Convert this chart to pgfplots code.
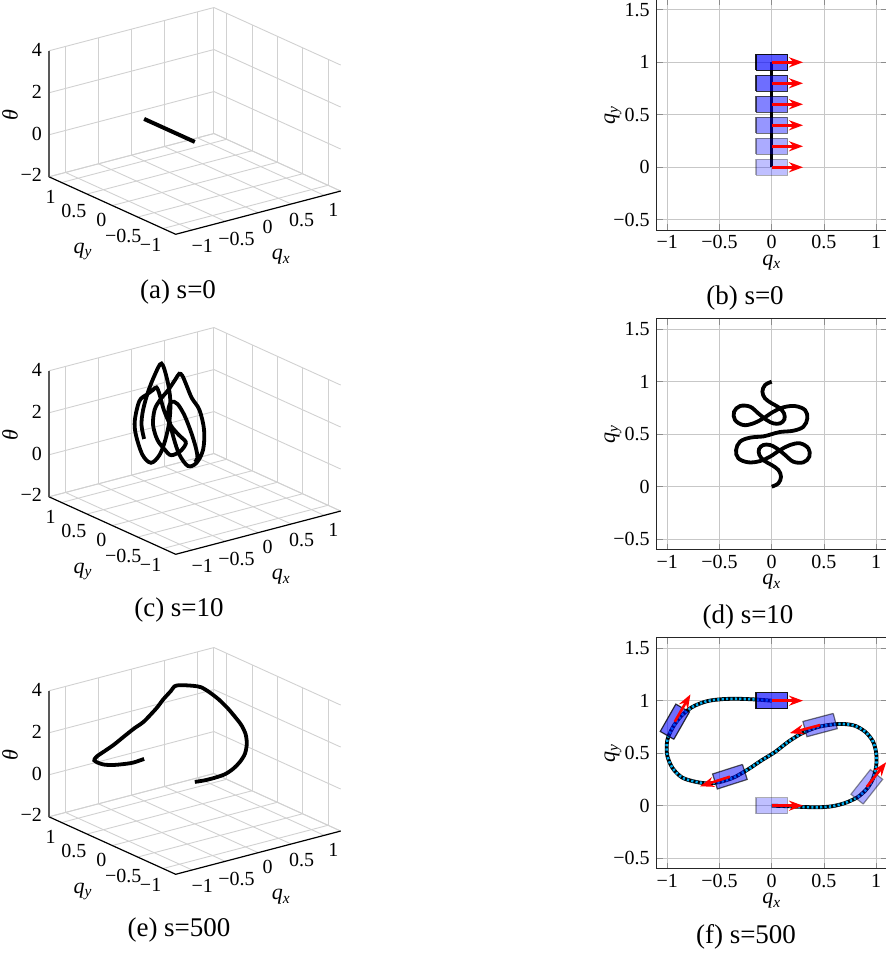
\documentclass[border=0pt]{standalone}
\usepackage{fontspec}
\setmainfont{Liberation Serif}
\usepackage{pgfplots}
\pgfplotsset{compat=1.18}
\usetikzlibrary{arrows.meta}

\newcommand{\qx}{\textit{q}\textsubscript{\textit{x}}}
\newcommand{\qy}{\textit{q}\textsubscript{\textit{y}}}

\pgfplotsset{
  my2d/.style={
    x=52.25pt, y=52.5pt,
    xmin=-1.1, xmax=1.1, ymin=-0.6, ymax=1.6,
    xtick={-1,-0.5,0,0.5,1}, xticklabels={−1,−0.5,0,0.5,1},
    ytick={-0.5,0,0.5,1,1.5}, yticklabels={−0.5,0,0.5,1,1.5},
    grid=major, grid style={black!22, line width=0.45pt},
    axis line style={black!85, line width=0.7pt},
    tick style={black!45, line width=0.4pt},
    major tick length=3pt,
    tick label style={font=\fontsize{10}{11}\selectfont},
    xticklabel style={inner sep=1pt, yshift=-1.5pt},
    xlabel={\qx}, ylabel={\qy},
    label style={font=\fontsize{11}{12}\selectfont},
    xlabel style={at={(axis description cs:0.5,-0.14)}, anchor=center, inner sep=0pt},
    ylabel style={at={(axis description cs:-0.19,0.5)}, anchor=center, inner sep=0pt},
    anchor=origin,
  },
  my3d/.style={
    x={(33pt,8.65pt)}, y={(-25.35pt,11.5pt)}, z={(0pt,10.5pt)},
    xmin=-1.25, xmax=1.25, ymin=-1.25, ymax=1.25, zmin=-2, zmax=4,
    xtick={-1,-0.5,0,0.5,1}, xticklabels={−1,−0.5,0,0.5,1},
    ytick={-1,-0.5,0,0.5,1}, yticklabels={−1,−0.5,0,0.5,1},
    ztick={-2,0,2,4}, zticklabels={−2,0,2,4},
    grid=major, grid style={black!18, line width=0.45pt},
    axis line style={draw=none},
    tick style={draw=none},
    tick label style={font=\fontsize{10}{11}\selectfont},
    xlabel={\qx}, ylabel={\qy}, zlabel={\textit{θ}},
    label style={font=\fontsize{11}{12}\selectfont},
    xlabel style={xshift=-6pt, yshift=5pt},
    ylabel style={xshift=7pt, yshift=5pt},
    zlabel style={yshift=-6pt, xshift=-3pt},
    anchor=origin, clip=false,
  },
}

\newcommand{\boxedges}{%
  \draw[black!18, line width=0.45pt] (axis cs:-1.25,1.25,-2) -- (axis cs:1.25,1.25,-2) -- (axis cs:1.25,-1.25,-2);
  \draw[black!18, line width=0.45pt] (axis cs:1.25,1.25,-2) -- (axis cs:1.25,1.25,4);
  \draw[black, line width=0.6pt] (axis cs:-1.25,1.25,-2) -- (axis cs:-1.25,-1.25,-2) -- (axis cs:1.25,-1.25,-2);
  \draw[black!65, line width=0.6pt] (axis cs:-1.25,1.25,-2) -- (axis cs:-1.25,1.25,4);
}

\begin{document}
\begin{tikzpicture}
\path[use as bounding box] (0pt,0pt) rectangle (443pt,476.5pt);

% ---------------- (a) ----------------
\begin{axis}[my3d, at={(97.41pt,405.54pt)}]
\boxedges
\addplot3[black, line width=2pt] coordinates {(0,0,0) (0,1,0)};
\end{axis}

% ---------------- (c) ----------------
\begin{axis}[my3d, at={(97.41pt,245.54pt)}]
\boxedges
\addplot3[black, line width=1.9pt, smooth, tension=0.55] coordinates {
(0,1,0) (-0.064,0.968,0.75) (-0.089,0.905,1.55) (-0.064,0.841,2.45) (0,0.794,3.25)
(0.073,0.752,3.8) (0.118,0.698,3.05) (0.121,0.641,2.15) (0.080,0.603,1.27) (0.016,0.603,0.37)
(-0.048,0.635,-0.33) (-0.128,0.698,-0.7) (-0.207,0.762,-0.33) (-0.303,0.768,0.7) (-0.360,0.714,1.5)
(-0.351,0.635,2.5) (-0.271,0.587,2.8) (-0.175,0.603,2.9) (-0.080,0.651,2.9) (0.016,0.714,2.4)
(0.112,0.756,1.55) (0.223,0.768,0.73) (0.319,0.730,0.22) (0.341,0.651,0.05) (0.303,0.571,0)
(0.207,0.533,-0.2) (0.080,0.521,-0.3) (0,0.5,-0.2) (-0.080,0.479,0.1) (-0.207,0.467,0.7)
(-0.303,0.429,1.54) (-0.341,0.349,2.38) (-0.319,0.270,2.92) (-0.223,0.232,3.36) (-0.112,0.244,3.73)
(-0.016,0.286,3.9) (0.080,0.349,3.65) (0.175,0.397,3.1) (0.271,0.413,2.37) (0.351,0.365,1.78)
(0.360,0.286,0.91) (0.303,0.232,0.07) (0.207,0.238,-0.48) (0.128,0.302,-0.63) (0.048,0.365,-0.1)
(-0.016,0.397,0.72) (-0.080,0.397,1.63) (-0.121,0.359,2.28) (-0.118,0.302,2.63) (-0.073,0.248,2.55)
(0,0.206,2.0) (0.064,0.159,1.2) (0.089,0.095,0.49) (0.064,0.032,0.1) (0,0,0)
};
\end{axis}

% ---------------- (e) ----------------
\begin{axis}[my3d, at={(97.41pt,85.54pt)}]
\boxedges
\addplot3[black, line width=1.9pt, smooth] coordinates {
(0,0,0) (0.15,-0.005,-0.04) (0.30,-0.012,-0.03) (0.45,-0.015,0.02) (0.58,-0.005,0.16)
(0.70,0.025,0.34) (0.82,0.08,0.57) (0.91,0.16,0.88) (0.97,0.26,1.18) (1.0,0.38,1.45)
(1.0,0.50,1.70) (0.97,0.61,2.03) (0.9,0.7,2.42) (0.8,0.76,2.79) (0.69,0.778,3.09)
(0.57,0.772,3.26) (0.43,0.746,3.43) (0.29,0.69,3.61) (0.16,0.61,3.75) (0.03,0.51,3.75)
(-0.1,0.43,3.71) (-0.22,0.35,3.69) (-0.36,0.27,3.56) (-0.5,0.225,3.36) (-0.62,0.213,3.12)
(-0.74,0.23,2.91) (-0.86,0.27,2.59) (-0.95,0.36,2.16) (-1.0,0.48,1.76) (-1.0,0.62,1.38)
(-0.95,0.74,1.06) (-0.87,0.85,0.81) (-0.76,0.94,0.53) (-0.62,0.995,0.25) (-0.47,1.015,0.08)
(-0.32,1.018,-0.01) (-0.16,1.012,-0.06) (0,1.0,0)
};
\end{axis}

% ---------------- (b) ----------------
\begin{axis}[my2d, at={(385.85pt,392.85pt)}]
\addplot[black, line width=1.6pt] coordinates {(0,0) (0,1)};
\addplot[fill=blue, fill opacity=0.25, draw=black, draw opacity=0.3, line width=0.6pt] coordinates {(-0.15,-0.075) (0.15,-0.075) (0.15,0.075) (-0.15,0.075) (-0.15,-0.075)};
\addplot[fill=blue, fill opacity=0.33, draw=black, draw opacity=0.42, line width=0.6pt] coordinates {(-0.15,0.125) (0.15,0.125) (0.15,0.275) (-0.15,0.275) (-0.15,0.125)};
\addplot[fill=blue, fill opacity=0.41, draw=black, draw opacity=0.54, line width=0.6pt] coordinates {(-0.15,0.325) (0.15,0.325) (0.15,0.475) (-0.15,0.475) (-0.15,0.325)};
\addplot[fill=blue, fill opacity=0.49, draw=black, draw opacity=0.66, line width=0.6pt] coordinates {(-0.15,0.525) (0.15,0.525) (0.15,0.675) (-0.15,0.675) (-0.15,0.525)};
\addplot[fill=blue, fill opacity=0.57, draw=black, draw opacity=0.78, line width=0.6pt] coordinates {(-0.15,0.725) (0.15,0.725) (0.15,0.875) (-0.15,0.875) (-0.15,0.725)};
\addplot[fill=blue, fill opacity=0.65, draw=black, draw opacity=0.9, line width=0.6pt] coordinates {(-0.15,0.925) (0.15,0.925) (0.15,1.075) (-0.15,1.075) (-0.15,0.925)};
\addplot[red, line width=1.3pt, -{Stealth[length=7pt,width=5pt]}] coordinates {(0,0) (0.3,0)};
\addplot[red, line width=1.3pt, -{Stealth[length=7pt,width=5pt]}] coordinates {(0,0.2) (0.3,0.2)};
\addplot[red, line width=1.3pt, -{Stealth[length=7pt,width=5pt]}] coordinates {(0,0.4) (0.3,0.4)};
\addplot[red, line width=1.3pt, -{Stealth[length=7pt,width=5pt]}] coordinates {(0,0.6) (0.3,0.6)};
\addplot[red, line width=1.3pt, -{Stealth[length=7pt,width=5pt]}] coordinates {(0,0.8) (0.3,0.8)};
\addplot[red, line width=1.3pt, -{Stealth[length=7pt,width=5pt]}] coordinates {(0,1) (0.3,1)};
\end{axis}

% ---------------- (d) ----------------
\begin{axis}[my2d, at={(385.85pt,233.15pt)}]
\addplot[black, line width=1.9pt, smooth, tension=0.6] coordinates {
(0,1.0) (-0.064,0.968) (-0.089,0.905) (-0.064,0.841) (0,0.794) (0.073,0.752) (0.118,0.698)
(0.121,0.641) (0.080,0.603) (0.016,0.603) (-0.048,0.635) (-0.128,0.698) (-0.207,0.762)
(-0.303,0.768) (-0.360,0.714) (-0.351,0.635) (-0.271,0.587) (-0.175,0.603) (-0.080,0.651)
(0.016,0.714) (0.112,0.756) (0.223,0.768) (0.319,0.730) (0.341,0.651) (0.303,0.571)
(0.207,0.533) (0.080,0.521) (0,0.5) (-0.080,0.479) (-0.207,0.467) (-0.303,0.429)
(-0.341,0.349) (-0.319,0.270) (-0.223,0.232) (-0.112,0.244) (-0.016,0.286) (0.080,0.349)
(0.175,0.397) (0.271,0.413) (0.351,0.365) (0.360,0.286) (0.303,0.232) (0.207,0.238)
(0.128,0.302) (0.048,0.365) (-0.016,0.397) (-0.080,0.397) (-0.121,0.359) (-0.118,0.302)
(-0.073,0.248) (0,0.206) (0.064,0.159) (0.089,0.095) (0.064,0.032) (0,0)
};
\end{axis}

% ---------------- (f) ----------------
\begin{axis}[my2d, at={(385.85pt,73.65pt)}]
\addplot[black, line width=1.9pt, smooth] coordinates {
(0,0) (0.15,-0.005) (0.30,-0.012) (0.45,-0.015) (0.58,-0.005) (0.70,0.025) (0.82,0.08)
(0.91,0.16) (0.97,0.26) (1.0,0.38) (1.0,0.50) (0.97,0.61) (0.9,0.7) (0.8,0.76) (0.69,0.778)
(0.57,0.772) (0.43,0.746) (0.29,0.69) (0.16,0.61) (0.03,0.51) (-0.1,0.43) (-0.22,0.35)
(-0.36,0.27) (-0.5,0.225) (-0.62,0.213) (-0.74,0.23) (-0.86,0.27) (-0.95,0.36) (-1.0,0.48)
(-1.0,0.62) (-0.95,0.74) (-0.87,0.85) (-0.76,0.94) (-0.62,0.995) (-0.47,1.015) (-0.32,1.018)
(-0.16,1.012) (0,1.0)
};
\addplot[cyan, line width=1.3pt, dash pattern=on 1.1pt off 1.1pt, smooth] coordinates {
(0,0) (0.15,-0.005) (0.30,-0.012) (0.45,-0.015) (0.58,-0.005) (0.70,0.025) (0.82,0.08)
(0.91,0.16) (0.97,0.26) (1.0,0.38) (1.0,0.50) (0.97,0.61) (0.9,0.7) (0.8,0.76) (0.69,0.778)
(0.57,0.772) (0.43,0.746) (0.29,0.69) (0.16,0.61) (0.03,0.51) (-0.1,0.43) (-0.22,0.35)
(-0.36,0.27) (-0.5,0.225) (-0.62,0.213) (-0.74,0.23) (-0.86,0.27) (-0.95,0.36) (-1.0,0.48)
(-1.0,0.62) (-0.95,0.74) (-0.87,0.85) (-0.76,0.94) (-0.62,0.995) (-0.47,1.015) (-0.32,1.018)
(-0.16,1.012) (0,1.0)
};
\addplot[fill=blue, fill opacity=0.25, draw=black, draw opacity=0.3, line width=0.6pt] coordinates {(-0.15,-0.075) (0.15,-0.075) (0.15,0.075) (-0.15,0.075) (-0.15,-0.075)};
\addplot[fill=blue, fill opacity=0.33, draw=black, draw opacity=0.42, line width=0.6pt] coordinates {(0.8755,0.0159) (1.0619,0.2509) (0.9445,0.3441) (0.7581,0.1091) (0.8755,0.0159)};
\addplot[fill=blue, fill opacity=0.41, draw=black, draw opacity=0.54, line width=0.6pt] coordinates {(0.5888,0.8788) (0.2988,0.8022) (0.3372,0.6572) (0.6272,0.7338) (0.5888,0.8788)};
\addplot[fill=blue, fill opacity=0.49, draw=black, draw opacity=0.66, line width=0.6pt] coordinates {(-0.2799,0.3930) (-0.5657,0.3020) (-0.5201,0.1590) (-0.2343,0.2500) (-0.2799,0.3930)};
\addplot[fill=blue, fill opacity=0.57, draw=black, draw opacity=0.78, line width=0.6pt] coordinates {(-0.9365,0.6326) (-0.7873,0.8928) (-0.9175,0.9674) (-1.0667,0.7072) (-0.9365,0.6326)};
\addplot[fill=blue, fill opacity=0.65, draw=black, draw opacity=0.9, line width=0.6pt] coordinates {(-0.15,0.925) (0.15,0.925) (0.15,1.075) (-0.15,1.075) (-0.15,0.925)};
\addplot[red, line width=1.3pt, -{Stealth[length=7pt,width=5pt]}] coordinates {(0,0) (0.3,0)};
\addplot[red, line width=1.3pt, -{Stealth[length=7pt,width=5pt]}] coordinates {(0.91,0.18) (1.0965,0.415)};
\addplot[red, line width=1.3pt, -{Stealth[length=7pt,width=5pt]}] coordinates {(0.463,0.768) (0.173,0.691)};
\addplot[red, line width=1.3pt, -{Stealth[length=7pt,width=5pt]}] coordinates {(-0.40,0.276) (-0.6858,0.1849)};
\addplot[red, line width=1.3pt, -{Stealth[length=7pt,width=5pt]}] coordinates {(-0.927,0.80) (-0.7777,1.0602)};
\addplot[red, line width=1.3pt, -{Stealth[length=7pt,width=5pt]}] coordinates {(0,1) (0.3,1)};
\end{axis}

% ---------------- captions ----------------
\begin{scope}[every node/.style={font=\fontsize{13.5}{15}\selectfont, inner sep=0pt}]
\node at (89pt,330.25pt) {(a) s=0};
\node at (89.5pt,171.5pt) {(c) s=10};
\node at (89.5pt,11.5pt) {(e) s=500};
\node at (372.5pt,327.5pt) {(b) s=0};
\node at (374pt,168pt) {(d) s=10};
\node at (373pt,8pt) {(f) s=500};
\end{scope}
\end{tikzpicture}
\end{document}
